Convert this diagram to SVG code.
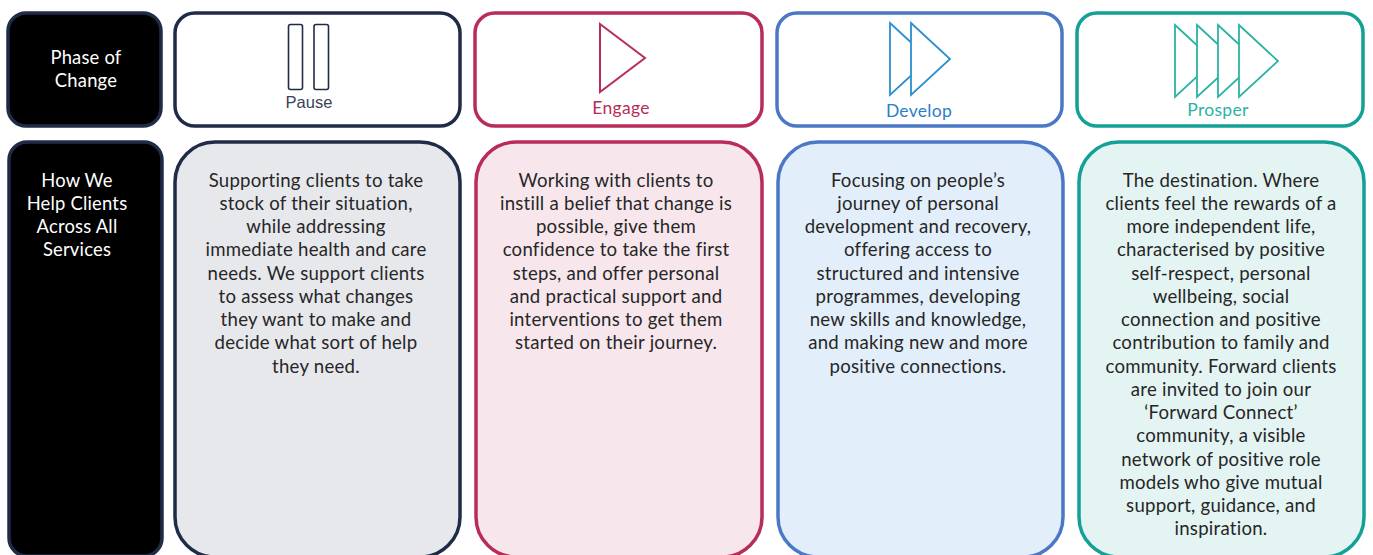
<svg xmlns="http://www.w3.org/2000/svg" width="1373" height="555" viewBox="0 0 1373 555">
<style>
.box{stroke-width:3.5}
.navy{stroke:#1f2b47}
.red{stroke:#b82c58}
.blue{stroke:#4a78c6}
.teal{stroke:#13a096}
.lbl{font-family:Lato,"Open Sans","Noto Sans",sans-serif;font-size:18.6px;letter-spacing:0.25px;text-anchor:middle;fill:#262626}
.wl{font-family:Lato,"Open Sans","Noto Sans",sans-serif;font-size:18.4px;letter-spacing:0.2px;text-anchor:middle;fill:#ffffff}
.icn{font-family:Lato,"Open Sans","Noto Sans",sans-serif;font-size:17.5px;letter-spacing:0.3px;text-anchor:middle}
</style>
<rect width="1373" height="555" fill="#ffffff"/>
<g id="phase-label">
<rect class="box navy" x="8" y="13" width="153" height="113" rx="18" fill="#000000"/>
<text class="wl" x="86" y="64">Phase of</text>
<text class="wl" x="86" y="87">Change</text>
</g>
<g id="pause-head">
<rect class="box navy" x="175" y="13" width="285" height="113" rx="20" fill="#ffffff"/>
<rect x="288.5" y="24.5" width="14" height="65" rx="2" fill="none" stroke="#1f2b47" stroke-width="1.6"/>
<rect x="314" y="24.5" width="14.5" height="65" rx="2" fill="none" stroke="#1f2b47" stroke-width="1.6"/>
<text x="309" y="108" font-family="'Liberation Sans',Arial,sans-serif" font-size="16.5" text-anchor="middle" fill="#3a4258">Pause</text>
</g>
<g id="engage-head">
<rect class="box red" x="475" y="13" width="287" height="113" rx="20" fill="#ffffff"/>
<polygon points="600,24 645,58 600,92" fill="#ffffff" stroke="#b82c58" stroke-width="2"/>
<text class="icn" x="621" y="114" fill="#b82c58">Engage</text>
</g>
<g id="develop-head">
<rect class="box blue" x="777" y="13" width="285" height="113" rx="20" fill="#ffffff"/>
<polygon points="890,23 929,59 890,95" fill="#ffffff" stroke="#2b8fd0" stroke-width="1.8"/>
<polygon points="911,23 950,59 911,95" fill="#ffffff" stroke="#2b8fd0" stroke-width="1.8"/>
<text class="icn" x="919" y="117" fill="#2b7fc4">Develop</text>
</g>
<g id="prosper-head">
<rect class="box teal" x="1077" y="13" width="286" height="113" rx="20" fill="#ffffff"/>
<polygon points="1175,25 1214,61 1175,97" fill="#ffffff" stroke="#2bb3a3" stroke-width="1.8"/>
<polygon points="1197,25 1236,61 1197,97" fill="#ffffff" stroke="#2bb3a3" stroke-width="1.8"/>
<polygon points="1218,25 1257,61 1218,97" fill="#ffffff" stroke="#2bb3a3" stroke-width="1.8"/>
<polygon points="1239,25 1278,61 1239,97" fill="#ffffff" stroke="#2bb3a3" stroke-width="1.8"/>
<text class="icn" x="1218" y="116" fill="#2bb3a3">Prosper</text>
</g>
<g id="help-label">
<rect class="box navy" x="9" y="142" width="153" height="414" rx="18" fill="#000000"/>
<text class="wl" x="77" y="187">How We</text>
<text class="wl" x="77" y="210">Help Clients</text>
<text class="wl" x="77" y="233">Across All</text>
<text class="wl" x="77" y="256">Services</text>
</g>
<g id="pause-body">
<rect class="box navy" x="175" y="142" width="285" height="415" rx="40" fill="#e7e8ec"/>
<text class="lbl" x="316" y="187">Supporting clients to take</text>
<text class="lbl" x="316" y="210">stock of their situation,</text>
<text class="lbl" x="316" y="233">while addressing</text>
<text class="lbl" x="316" y="256">immediate health and care</text>
<text class="lbl" x="316" y="280">needs. We support clients</text>
<text class="lbl" x="316" y="303">to assess what changes</text>
<text class="lbl" x="316" y="326">they want to make and</text>
<text class="lbl" x="316" y="349">decide what sort of help</text>
<text class="lbl" x="316" y="373">they need.</text>
</g>
<g id="engage-body">
<rect class="box red" x="476" y="142" width="286" height="415" rx="40" fill="#f7e7ed"/>
<text class="lbl" x="616" y="187">Working with clients to</text>
<text class="lbl" x="616" y="210">instill a belief that change is</text>
<text class="lbl" x="616" y="233">possible, give them</text>
<text class="lbl" x="616" y="256">confidence to take the first</text>
<text class="lbl" x="616" y="280">steps, and offer personal</text>
<text class="lbl" x="616" y="303">and practical support and</text>
<text class="lbl" x="616" y="326">interventions to get them</text>
<text class="lbl" x="616" y="349">started on their journey.</text>
</g>
<g id="develop-body">
<rect class="box blue" x="778" y="142" width="285" height="415" rx="40" fill="#e2eef9"/>
<text class="lbl" x="918" y="187">Focusing on people’s</text>
<text class="lbl" x="918" y="210">journey of personal</text>
<text class="lbl" x="918" y="233">development and recovery,</text>
<text class="lbl" x="918" y="256">offering access to</text>
<text class="lbl" x="918" y="280">structured and intensive</text>
<text class="lbl" x="918" y="303">programmes, developing</text>
<text class="lbl" x="918" y="326">new skills and knowledge,</text>
<text class="lbl" x="918" y="349">and making new and more</text>
<text class="lbl" x="918" y="373">positive connections.</text>
</g>
<g id="prosper-body">
<rect class="box teal" x="1079" y="142" width="285" height="415" rx="40" fill="#e3f4f3"/>
<text class="lbl" x="1221" y="187">The destination. Where</text>
<text class="lbl" x="1221" y="210">clients feel the rewards of a</text>
<text class="lbl" x="1221" y="233">more independent life,</text>
<text class="lbl" x="1221" y="256">characterised by positive</text>
<text class="lbl" x="1221" y="280">self-respect, personal</text>
<text class="lbl" x="1221" y="303">wellbeing, social</text>
<text class="lbl" x="1221" y="326">connection and positive</text>
<text class="lbl" x="1221" y="349">contribution to family and</text>
<text class="lbl" x="1221" y="373">community. Forward clients</text>
<text class="lbl" x="1221" y="396">are invited to join our</text>
<text class="lbl" x="1221" y="419">‘Forward Connect’</text>
<text class="lbl" x="1221" y="442">community, a visible</text>
<text class="lbl" x="1221" y="466">network of positive role</text>
<text class="lbl" x="1221" y="489">models who give mutual</text>
<text class="lbl" x="1221" y="512">support, guidance, and</text>
<text class="lbl" x="1221" y="535">inspiration.</text>
</g>
<g id="connectors"></g>
</svg>
